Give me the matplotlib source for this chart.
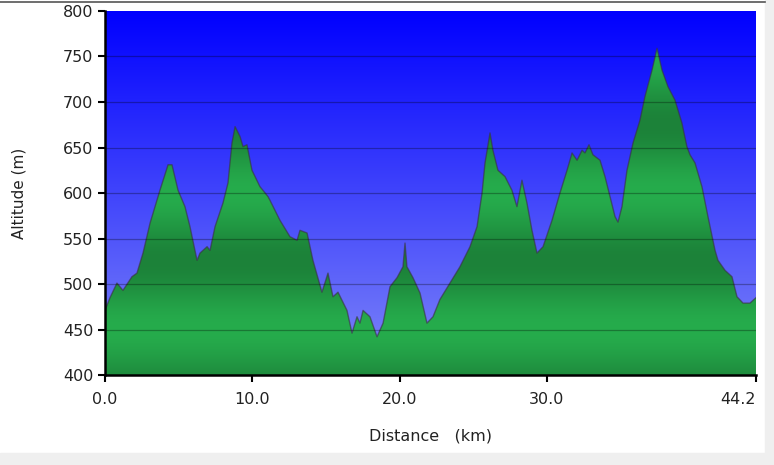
import numpy as np
import matplotlib
matplotlib.use("Agg")
import matplotlib.pyplot as plt
from matplotlib.patches import Rectangle

# distance (km) / altitude (m)
distance = [0.00, 0.34, 0.81, 1.22, 1.83, 2.17, 2.58, 3.06, 3.73, 4.28, 4.55, 4.96,
            5.43, 5.77, 6.25, 6.45, 6.93, 7.13, 7.47, 8.01, 8.35, 8.62, 8.83, 9.17,
            9.37, 9.64, 9.98, 10.52, 11.07, 11.20, 11.88, 12.56, 13.04, 13.24, 13.72,
            14.12, 14.73, 15.14, 15.48, 15.82, 16.43, 16.77, 17.11, 17.31, 17.52,
            17.99, 18.47, 18.88, 19.35, 19.83, 20.23, 20.37, 20.50, 20.91, 21.39,
            21.86, 22.27, 22.74, 23.42, 24.10, 24.78, 25.26, 25.60, 25.80, 26.14,
            26.34, 26.68, 27.16, 27.63, 27.97, 28.31, 28.65, 28.99, 29.33, 29.74,
            30.35, 30.89, 31.37, 31.71, 32.05, 32.39, 32.59, 32.86, 33.13, 33.61,
            33.95, 34.29, 34.63, 34.83, 35.10, 35.44, 35.85, 36.32, 36.66, 37.14,
            37.48, 37.82, 38.22, 38.70, 39.17, 39.51, 39.72, 40.06, 40.53, 40.94,
            41.42, 41.62, 42.10, 42.57, 42.91, 43.32, 43.79, 44.20]
altitude = [471, 485, 501, 493, 508, 512, 534, 567, 603, 631, 631, 603,
            585, 563, 526, 534, 541, 537, 563, 589, 611, 655, 673, 662,
            651, 653, 625, 607, 596, 592, 570, 552, 548, 559, 556,
            526, 491, 512, 486, 491, 471, 446, 464, 457, 471,
            464, 442, 457, 497, 507, 519, 545, 519, 507, 490,
            457, 464, 483, 501, 519, 541, 563, 600, 633, 666,
            647, 625, 618, 603, 585, 614, 589, 559, 534, 541,
            570, 600, 625, 644, 636, 647, 644, 653, 642, 636,
            618, 596, 574, 568, 585, 625, 655, 680, 706, 735,
            759, 735, 717, 702, 677, 651, 642, 633, 607, 574,
            537, 526, 515, 508, 486, 479, 479, 485]

x_ticks = [0, 10, 20, 30, 44.2]
x_labels = ["0.0", "10.0", "20.0", "30.0", "44.2"]
y_ticks = [400, 450, 500, 550, 600, 650, 700, 750, 800]

fig = plt.figure(figsize=(7.74, 4.65), dpi=100)
fig.patch.set_facecolor("white")

# frame bits around the chart
fig.patches.append(Rectangle((0, 0), 1, 12 / 465, transform=fig.transFigure,
                             color="#efefef", zorder=0))
fig.patches.append(Rectangle((765 / 774, 0), 9 / 774, 1, transform=fig.transFigure,
                             color="#efefef", zorder=0))
fig.lines.append(plt.Line2D([0, 765 / 774], [1 - 2 / 465, 1 - 2 / 465],
                            transform=fig.transFigure, color="#555555", lw=1.2))

ax = fig.add_axes([105 / 774, 1 - 375 / 465, 651 / 774, 364 / 465])
xmin, xmax, ymin, ymax = 0, 44.2, 400, 800

# blue sky gradient
t = np.linspace(0, 1, 256)[:, None]
top = np.array([0, 0, 255]) / 255
bot = np.array([128, 136, 248]) / 255
sky = top + (bot - top) * t
ax.imshow(sky[:, None, :].repeat(2, axis=1), extent=[xmin, xmax, ymin, ymax],
          aspect="auto", origin="upper", zorder=0)

# green banded gradient, clipped to the profile
alt = np.linspace(ymax, ymin, 400)
k = 0.5 + 0.5 * np.cos(2 * np.pi * (alt - 450) / 150)
bright = np.array([38, 172, 76]) / 255
dark = np.array([28, 130, 57]) / 255
green = dark + (bright - dark) * k[:, None]
poly = ax.fill_between(distance, altitude, ymin, color="none", lw=0)
img = ax.imshow(green[:, None, :].repeat(2, axis=1), extent=[xmin, xmax, ymin, ymax],
                aspect="auto", origin="upper", zorder=1)
img.set_clip_path(poly.get_paths()[0], transform=ax.transData)
ax.plot(distance, altitude, color="#3a3040", lw=1.0, alpha=0.6, zorder=2)

for y in y_ticks[1:-1]:
    ax.axhline(y, color="black", lw=0.9, alpha=0.3, zorder=3)

ax.set_xlim(xmin, xmax)
ax.set_ylim(ymin, ymax)
ax.set_xticks(x_ticks)
ax.set_xticklabels(x_labels)
ax.set_yticks(y_ticks)
ax.get_xticklabels()[-1].set_horizontalalignment("right")
ax.tick_params(axis="both", direction="out", length=5, width=1.5, colors="black",
               labelsize=11.5, labelcolor="#222222")
ax.tick_params(axis="x", pad=7)

for s in ["top", "right"]:
    ax.spines[s].set_visible(False)
ax.spines["left"].set_linewidth(1.8)
ax.spines["bottom"].set_linewidth(1.8)

ax.set_ylabel("Altitude (m)", fontsize=11, color="#222222", labelpad=26)
ax.set_xlabel("Distance   (km)", fontsize=11.5, color="#222222", labelpad=16)

fig.savefig("out.png", dpi=100)
